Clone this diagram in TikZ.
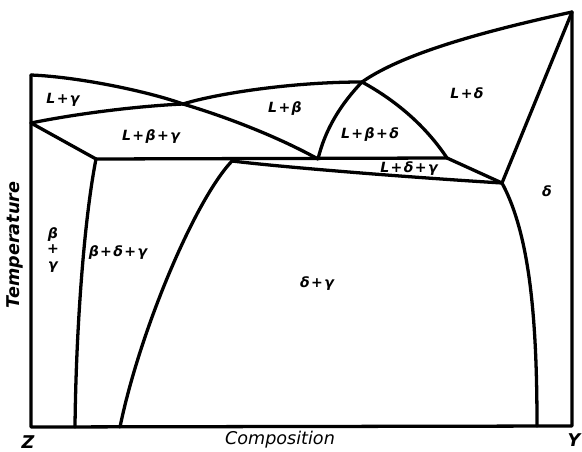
\documentclass[tikz,border=0pt]{standalone}
\usepackage{fontspec}
\setmainfont{DejaVu Sans}
\usetikzlibrary{positioning}

\newcommand{\pls}{\kern0.1em+\kern0.1em}

\begin{document}
\begin{tikzpicture}[
  x=0.03cm, y=-0.03cm,
  font=\fontsize{12}{14}\selectfont\bfseries\itshape,
  bound/.style={line width=2.8pt, line join=round, line cap=round},
  phase/.style={inner sep=1pt},
  axislbl/.style={inner sep=1pt, font=\fontsize{15}{17}\selectfont\itshape},
  cornerlbl/.style={inner sep=1pt, font=\fontsize{15}{17}\selectfont\bfseries\itshape}
]
\useasboundingbox (0,0) rectangle (582,452);

% junction points
\coordinate (Ztop) at (31,75);
\coordinate (Zmid) at (31,123);
\coordinate (Zbot) at (31,427);
\coordinate (Ytop) at (572,12);
\coordinate (Ybot) at (572,426);
\coordinate (eG) at (183,104);
\coordinate (pB) at (362,82);
\coordinate (pL) at (96,159);
\coordinate (pR) at (447,158);
\coordinate (qG) at (318,159);
\coordinate (sD) at (232,161);
\coordinate (eD) at (502,183);
\coordinate (b1) at (75,427);
\coordinate (b2) at (120,427);
\coordinate (b3) at (537,426);

% frame
\draw[bound] (Ztop) -- (Zbot) -- (Ybot) -- (Ytop);

% liquidus
\draw[bound] (Ztop) .. controls (80,77) and (150,92) .. (eG);
\draw[bound] (eG) .. controls (215,94) and (290,82) .. (pB);
\draw[bound] (pB) .. controls (405,52) and (490,30) .. (Ytop);

% three-phase fields
\draw[bound] (Zmid) .. controls (80,113) and (140,106) .. (eG);
\draw[bound] (eG) .. controls (230,118) and (280,138) .. (qG);
\draw[bound] (Zmid) -- (pL);
\draw[bound] (pL) -- (pR);
\draw[bound] (pB) .. controls (340,105) and (325,130) .. (qG);
\draw[bound] (pB) .. controls (395,100) and (425,125) .. (pR);
\draw[bound] (pR) -- (eD);
\draw[bound] (eD) -- (Ytop);
\draw[bound] (sD) .. controls (290,168) and (420,178) .. (eD);

% solvus lines
\draw[bound] (pL) .. controls (84,220) and (76,330) .. (b1);
\draw[bound] (sD) .. controls (195,200) and (140,330) .. (b2);
\draw[bound] (eD) .. controls (530,235) and (537,320) .. (b3);

% phase labels
\node[phase] (lg) at (63,100) {L\pls γ};
\node[phase] (lbg) at (151,137) {L\pls β\pls γ};
\node[phase] (lb) at (285,109) {L\pls β};
\node[phase] (lbd) at (370,135) {L\pls β\pls δ};
\node[phase] (ld) at (467,93) {L\pls δ};
\node[phase] (ldg) at (409,169) {L\pls δ\pls γ};
\node[phase] (d) at (547,191) {δ};
\node[phase, align=center] (bg) at (53,250) {β\\[-1pt]+\\[-1pt]γ};
\node[phase] (bdg) at (118,253) {β\pls δ\pls γ};
\node[phase] (dg) at (317,284) {δ\pls γ};

% axes
\node[cornerlbl, rotate=90] (temp) at (15,245) {Temperature};
\node[axislbl] (comp) at (280,440) {Composition};
\node[cornerlbl] (z) at (28,442) {Z};
\node[cornerlbl] (y) at (574,440) {Y};
\end{tikzpicture}
\end{document}
